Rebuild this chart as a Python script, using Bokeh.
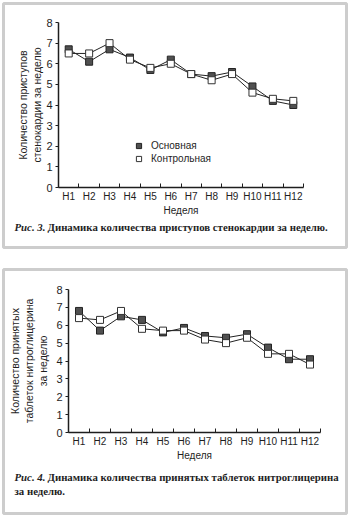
from bokeh.plotting import figure
from bokeh.models import Range1d, FixedTicker, Legend, LegendItem, Label
from bokeh.layouts import column
from bokeh.embed import file_html
from bokeh.resources import INLINE

weeks = ["H1", "H2", "H3", "H4", "H5", "H6", "H7", "H8", "H9", "H10", "H11", "H12"]
y_ticks = [0, 1, 2, 3, 4, 5, 6, 7, 8]

# Fig. 3 - angina attacks per week
attacks_main = [6.7, 6.1, 6.7, 6.3, 5.7, 6.2, 5.5, 5.4, 5.6, 4.9, 4.2, 4.0]
attacks_control = [6.5, 6.5, 7.0, 6.2, 5.8, 6.0, 5.5, 5.2, 5.5, 4.6, 4.3, 4.2]

# Fig. 4 - nitroglycerin tablets per week
tablets_main = [6.8, 5.7, 6.5, 6.3, 5.6, 5.85, 5.4, 5.3, 5.5, 4.75, 4.1, 4.1]
tablets_control = [6.4, 6.3, 6.8, 5.8, 5.7, 5.7, 5.2, 5.0, 5.3, 4.4, 4.4, 3.8]

series_names = ["Основная", "Контрольная"]
x_label = "Неделя"
y_label_1 = "Количество приступов\nстенокардии за неделю"
y_label_2 = "Количество принятых\nтаблеток нитроглицерина\nза неделю"
cap1_a, cap1_b = "Рис. 3.", "Динамика количества приступов стенокардии за неделю."
cap2_a, cap2_b, cap2_c = "Рис. 4.", "Динамика количества принятых таблеток нитроглицерина", "за неделю."

SANS = "Liberation Sans"
SERIF = "Liberation Serif"
INK = "#1e1e1e"
BOX = "#cdcdcd"

xs = list(range(1, len(weeks) + 1))
n = len(weeks)
Y_MAX = y_ticks[-1]


def make_panel(height, frame, area, main, control, ylabel, ylabel_standoff):
    """frame: (left, right, top, bottom) canvas px of the grey box;
    area: (left, right, top, bottom) canvas px of the axes rectangle."""
    fl, fr, ft, fb = frame
    al, ar, at, ab = area
    kx = (ar - al) / n          # px per category
    ky = (ab - at) / Y_MAX      # px per unit
    x0 = 0.5 - (al - fl) / kx
    x1 = n + 0.5 + (fr - ar) / kx
    y0 = 0 - (fb - ab) / ky
    y1 = Y_MAX + (at - ft) / ky

    p = figure(width=350, height=height, x_range=Range1d(x0, x1), y_range=Range1d(y0, y1),
               output_backend="svg", toolbar_location=None,
               min_border_left=fl, min_border_right=350 - fr,
               min_border_top=ft, min_border_bottom=height - fb,
               background_fill_color="white", border_fill_color="white")
    p.outline_line_color = BOX
    p.outline_line_width = 3
    p.grid.visible = False

    xa = p.xaxis[0]
    xa.fixed_location = 0
    xa.bounds = (0.5, n + 0.5)
    xa.ticker = FixedTicker(ticks=xs, minor_ticks=[i + 0.5 for i in range(0, n + 1)])
    xa.major_label_overrides = {x: w for x, w in zip(xs, weeks)}
    xa.major_tick_line_color = None
    xa.major_tick_in = 0
    xa.major_tick_out = 0
    xa.minor_tick_in = 4
    xa.minor_tick_out = 0
    xa.minor_tick_line_color = INK
    xa.axis_line_color = INK
    xa.axis_line_width = 1.5
    xa.major_label_text_font = SANS
    xa.major_label_text_font_size = "10px"
    xa.major_label_text_color = INK
    xa.major_label_standoff = 3
    xa.axis_label = x_label
    xa.axis_label_text_font = SANS
    xa.axis_label_text_font_style = "normal"
    xa.axis_label_text_font_size = "10px"
    xa.axis_label_text_color = INK
    xa.axis_label_standoff = 0

    ya = p.yaxis[0]
    ya.fixed_location = 0.5
    ya.bounds = (0, Y_MAX)
    ya.ticker = FixedTicker(ticks=y_ticks)
    ya.minor_tick_line_color = None
    ya.major_tick_in = 0
    ya.major_tick_out = 3
    ya.major_tick_line_color = INK
    ya.axis_line_color = INK
    ya.axis_line_width = 1.5
    ya.major_label_text_font = SANS
    ya.major_label_text_font_size = "11px"
    ya.major_label_text_color = INK
    ya.major_label_standoff = 3
    ya.axis_label = ylabel
    ya.axis_label_text_font = SANS
    ya.axis_label_text_font_style = "normal"
    ya.axis_label_text_font_size = "10.5px"
    ya.axis_label_text_color = INK
    ya.axis_label_standoff = ylabel_standoff

    p.line(xs, main, line_color="#222222", line_width=1)
    p.line(xs, control, line_color="#222222", line_width=1)
    r_main = p.scatter(xs, main, marker="square", size=7, fill_color="#505050",
                       line_color="#222222", line_width=1)
    r_ctrl = p.scatter(xs, control, marker="square", size=7, fill_color="white",
                       line_color="#333333", line_width=1)
    return p, r_main, r_ctrl


def caption(p, x, y, text, style):
    p.add_layout(Label(x=x, y=y, x_units="canvas", y_units="canvas", text=text,
                       text_font=SERIF, text_font_style=style, text_font_size="10.8px",
                       text_color=INK, text_baseline="middle"))


# ---------- panel 1 ----------
p1, m1, c1 = make_panel(258, (3, 346, 3, 247), (58, 303, 22, 187),
                        attacks_main, attacks_control, y_label_1, 0)

legend = Legend(items=[LegendItem(label=series_names[0], renderers=[m1]),
                       LegendItem(label=series_names[1], renderers=[c1])],
                location=(129, 82), orientation="vertical")
legend.border_line_color = None
legend.background_fill_alpha = 0
legend.padding = 0
legend.margin = 0
legend.spacing = 0
legend.glyph_width = 13
legend.glyph_height = 13
legend.label_height = 13
legend.label_standoff = 6
legend.label_text_font = SANS
legend.label_text_font_size = "10px"
legend.label_text_color = INK
legend.label_text_baseline = "middle"
p1.add_layout(legend, "center")

caption(p1, 14, 226, cap1_a, "bold italic")
caption(p1, 47, 226, cap1_b, "bold")

# ---------- panel 2 ----------
p2, m2, c2 = make_panel(261, (3, 346, 11, 255), (68, 320, 31, 174),
                        tablets_main, tablets_control, y_label_2, 4)

caption(p2, 14, 218, cap2_a, "bold italic")
caption(p2, 47, 218, cap2_b, "bold")
caption(p2, 14, 232, cap2_c, "bold")

layout = column(p1, p2, spacing=0)
open("out.html", "w").write(file_html(layout, INLINE))
